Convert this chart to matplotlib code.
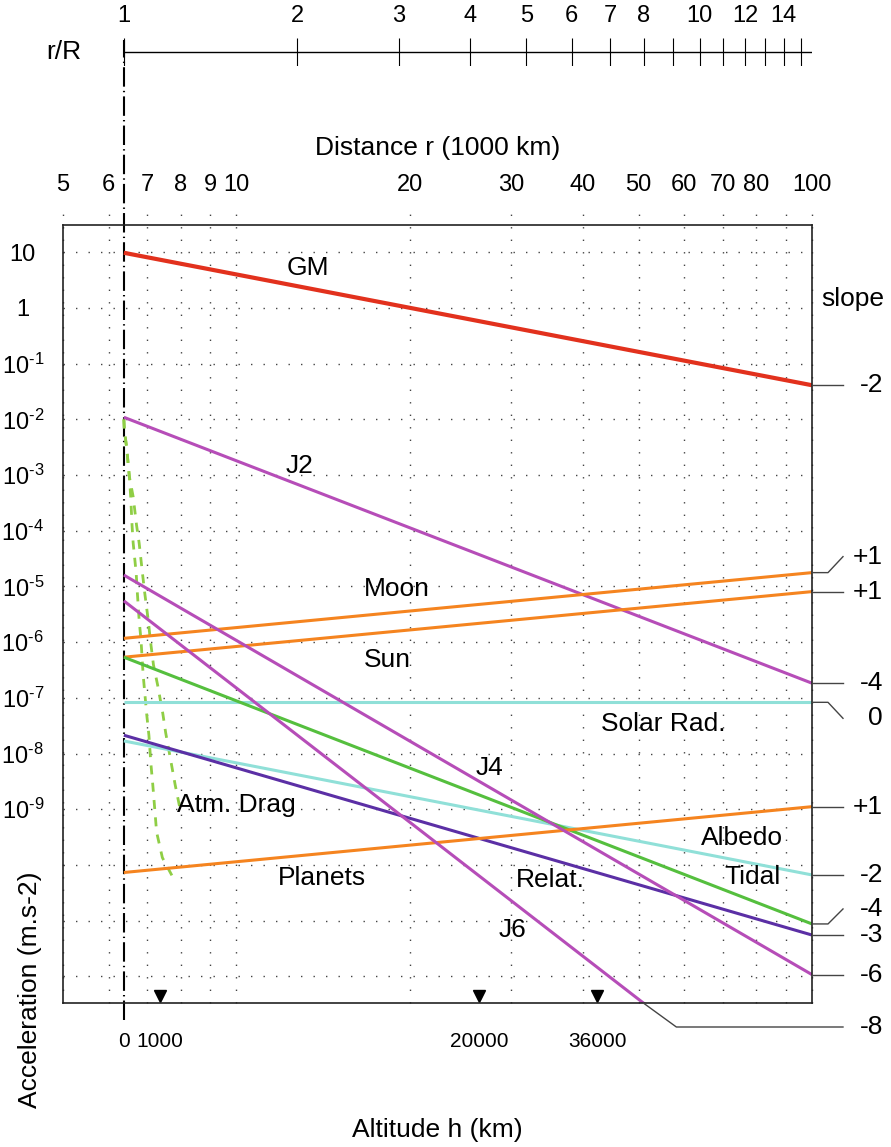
import numpy as np
import matplotlib.pyplot as plt
from matplotlib.lines import Line2D
from matplotlib.transforms import IdentityTransform

plt.rcParams['font.family'] = ['Liberation Sans', 'DejaVu Sans']
plt.rcParams['mathtext.fontset'] = 'custom'
plt.rcParams['mathtext.rm'] = 'Liberation Sans'
plt.rcParams['lines.scale_dashes'] = False

# Earth radius in 1000 km
R = 6.378

# accelerations (m/s2) read at r = R and r = 100 (1000 km)
r_ends = [R, 100.0]
gm = [9.8, 0.041]
j2 = [1.09e-2, 1.83e-7]
moon = [1.17e-6, 1.77e-5]
sun = [5.36e-7, 8.07e-6]
solar_rad = [8.3e-8, 8.3e-8]
j4 = [1.6e-5, 1.07e-12]
j6 = [5.5e-6, 1.5e-15]
tidal = [5.36e-7, 8.7e-12]
albedo = [1.68e-8, 6.6e-11]
relat = [2.13e-8, 5.5e-12]
planets = [7.3e-11, 1.11e-9]

# atmospheric drag, two curves (r in 1000 km, log10 acceleration)
drag1_r = [6.378, 6.39, 6.45, 6.52, 6.555, 6.59, 6.62, 6.70, 6.73, 6.78, 6.83,
           6.89, 6.99, 7.05, 7.11, 7.16, 7.23, 7.27, 7.44, 7.72, 7.83]
drag1_log = [-2.0, -2.19, -2.51, -3.03, -3.39, -3.90, -4.22, -4.76, -5.10, -5.60, -5.96,
             -6.59, -7.31, -7.67, -8.21, -8.56, -9.10, -9.41, -9.87, -10.18, -10.31]
drag2_r = [6.378, 6.39, 6.45, 6.52, 6.62, 6.71, 6.78, 6.87, 6.93, 7.03, 7.09,
           7.18, 7.30, 7.45, 7.54, 7.72, 7.83, 7.98]
drag2_log = [-2.0, -2.19, -2.51, -3.03, -3.39, -3.90, -4.22, -4.76, -5.10, -5.60, -5.96,
             -6.41, -6.77, -7.27, -7.63, -8.21, -8.56, -8.98]

dist_ticks = [5, 6, 7, 8, 9, 10, 20, 30, 40, 50, 60, 70, 80, 100]
grid_r = [5, 6, 7, 8, 9, 10, 20, 30, 40, 50, 60, 70, 80, 90, 100]
rR_ticks = list(range(1, 16))
rR_labels = [1, 2, 3, 4, 5, 6, 7, 8, 10, 12, 14]
alt_labels = [0, 1000, 20000, 36000]
alt_marks = [1000, 20000, 36000]
y_exp = list(range(1, -10, -1))
grid_exp = list(range(1, -13, -1))

red = '#e2311d'
magenta = '#b64db8'
orange = '#f5841f'
cyan = '#90e0d8'
green = '#55bf3e'
purple = '#5b2fa5'
drag_col = '#8fce45'

fig = plt.figure(figsize=(8.91, 11.47), dpi=100)
ax = fig.add_axes([63/891, 144/1147, 749/891, 778/1147])
ax.set_xscale('log')
ax.set_yscale('log')
ylo, yhi = 10**-12.48, 10**1.49
ax.set_xlim(5, 100)
ax.set_ylim(ylo, yhi)

# distance ticks on top
ax.xaxis.set_ticks_position('top')
ax.set_xticks(dist_ticks, [str(v) for v in dist_ticks])
ax.set_xticks([], minor=True)
ax.tick_params(axis='x', length=0, pad=21, labelsize=17)

ylabels = ['10', '1'] + [r'$\mathregular{10^{\text{-}%d}}$' % -e for e in y_exp[2:]]
ax.set_yticks([10.0**e for e in y_exp], ylabels)
ax.set_yticks([], minor=True)
ax.tick_params(axis='y', length=0, pad=29, labelsize=17)
for lab in ax.get_yticklabels():
    lab.set_ha('center')

for s in ax.spines.values():
    s.set_linewidth(1.2)
    s.set_color('#222222')

# altitude labels at bottom
sec = ax.secondary_xaxis('bottom', functions=(lambda x: x, lambda x: x))
sec.set_xticks([R + h/1000 for h in alt_labels], [str(h) for h in alt_labels])
sec.set_xticks([], minor=True)
sec.tick_params(length=0, pad=21, labelsize=15)
sec.spines['bottom'].set_visible(False)

# dotted grid
ax.vlines(grid_r, ylo, 10**1.76, colors='#444444', linestyles=[(0, (1, 8))],
          lw=1, clip_on=False)
ax.hlines([10.0**e for e in grid_exp], 5, 100, colors='#444444',
          linestyles=[(0, (1, 8))], lw=1)

# Earth surface
ax.plot([R, R], [-0.022, 1.238], transform=ax.get_xaxis_transform(), color='k',
        lw=1.5, ls=(0, (14, 3, 1, 3)), clip_on=False, zorder=1)

ax.plot(drag1_r, 10.0**np.array(drag1_log), color=drag_col, lw=2, ls=(0, (6.5, 6)))
ax.plot(drag2_r, 10.0**np.array(drag2_log), color=drag_col, lw=2, ls=(0, (6.5, 6)))

series = [(gm, red, 3.0), (j2, magenta, 2.2), (moon, orange, 2.2), (sun, orange, 2.2),
          (solar_rad, cyan, 2.2), (albedo, cyan, 2.2), (tidal, green, 2.2),
          (relat, purple, 2.2), (planets, orange, 2.2), (j4, magenta, 2.2),
          (j6, magenta, 2.2)]
for vals, col, lw in series:
    ax.plot(r_ends, vals, color=col, lw=lw, solid_capstyle='butt')

ax.plot([R + h/1000 for h in alt_marks], [0.009]*3, 'v', color='k', ms=8,
        transform=ax.get_xaxis_transform(), clip_on=False)

labels = [('GM', 13.3, 5.2), ('J2', 12.9, 1.45e-3), ('Moon', 19.0, 9.0e-6),
          ('Sun', 18.3, 4.8e-7), ('Solar Rad.', 55.1, 3.4e-8), ('J4', 27.5, 5.5e-9),
          ('Atm. Drag', 10.0, 1.19e-9), ('Albedo', 75.6, 3.05e-10),
          ('Planets', 14.1, 5.85e-11), ('Relat.', 35.1, 5.4e-11),
          ('Tidal', 78.7, 6.1e-11), ('J6', 30.2, 6.8e-12)]
for txt, x, y in labels:
    ax.text(x, y, txt, ha='center', va='center', fontsize=19)

# slope labels on the right
slopes = [(gm, '-2', 0), (moon, '+1', 16), (sun, '+1', 0), (j2, '-4', 0),
          (solar_rad, '0', -16), (planets, '+1', 0), (albedo, '-2', 0),
          (tidal, '-4', 15), (relat, '-3', 0), (j4, '-6', 0)]
ident = IdentityTransform()
for vals, txt, dy in slopes:
    px, py = ax.transData.transform((100, vals[1]))
    if dy:
        xs, ys = [px, px + 16, px + 31], [py, py, py + dy]
    else:
        xs, ys = [px, px + 31], [py, py]
    fig.add_artist(Line2D(xs, ys, color='#444444', lw=1, transform=ident))
    fig.text(px + 71, py + dy, txt, ha='right', va='center', fontsize=19,
             transform=ident)

# J6 leaves the frame at the bottom
lj = np.log10(j6)
lr = np.log10(r_ends)
r_exit = 10**(lr[0] + (np.log10(ylo) - lj[0]) * (lr[1] - lr[0]) / (lj[1] - lj[0]))
ex, ey = ax.transData.transform((r_exit, ylo))
rx, _ = ax.transData.transform((100, ylo))
fig.add_artist(Line2D([ex, ex + 33, rx + 31], [ey, ey - 24, ey - 24], color='#444444',
                      lw=1, transform=ident))
fig.text(rx + 71, ey - 24, '-8', ha='right', va='center', fontsize=19, transform=ident)

fig.text(853/891, 1 - 299/1147, 'slope', ha='center', va='center', fontsize=19)

# r/R scale on top
rax = fig.add_axes([63/891, 1 - 66/1147, 749/891, 28/1147])
rax.set_xscale('log')
rax.set_xlim(5, 100)
rax.set_ylim(-1, 1)
rax.axis('off')
rax.plot([R, 100], [0, 0], color='k', lw=1)
rax.vlines([R*k for k in rR_ticks], -1, 1, colors='k', lw=0.8)
for k in rR_labels:
    rax.text(R*k, 2.6, str(k), ha='center', va='center', fontsize=17)
fig.text(64/891, 1 - 52/1147, 'r/R', ha='center', va='center', fontsize=19)

fig.text(438/891, 1 - 148/1147, 'Distance r (1000 km)', ha='center', va='center',
         fontsize=19)
fig.text(437/891, 1 - 1130/1147, 'Altitude h (km)', ha='center', va='center',
         fontsize=19)
fig.text(30/891, 1 - 990/1147, 'Acceleration (m.s-2)', ha='center', va='center',
         rotation=90, fontsize=19)

fig.savefig('out.png', dpi=100)
